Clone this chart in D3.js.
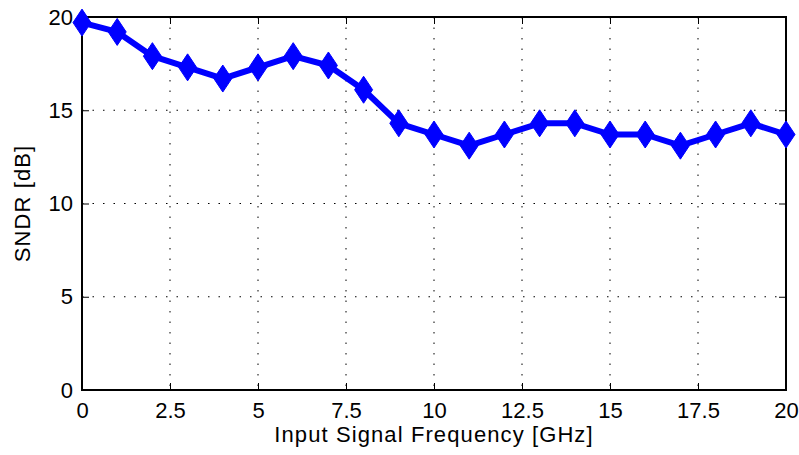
<!DOCTYPE html>
<html>
<head>
<meta charset="utf-8">
<title>SNDR vs frequency</title>
<style>
  body { margin: 0; background: #fff; }
  text { font-family: "Liberation Sans", Arial, sans-serif; fill: #000; }
</style>
</head>
<body>
<main></main>
<script src="https://cdn.jsdelivr.net/npm/d3@7/dist/d3.min.js"></script>
<script>
    // data
    var freqs = [0, 1, 2, 3, 4, 5, 6, 7, 8, 9, 10, 11, 12, 13, 14, 15, 16, 17, 18, 19, 20];
    var sndr = [19.7, 19.2, 17.9, 17.3, 16.7, 17.3, 17.9, 17.4, 16.1, 14.3, 13.7, 13.1, 13.7, 14.3, 14.3, 13.7, 13.7, 13.1, 13.7, 14.3, 13.7];
    var xTicks = [0, 2.5, 5, 7.5, 10, 12.5, 15, 17.5, 20];
    var yTicks = [0, 5, 10, 15, 20];

    var width = 799, height = 455;
    var mLeft = 82, mRight = 786, mTop = 17, mBottom = 390;

    var svg = d3.select("main").append("svg")
        .attr("width", width)
        .attr("height", height);

    var x = d3.scaleLinear().domain([0, 20]).range([mLeft, mRight]);
    var y = d3.scaleLinear().domain([0, 20]).range([mBottom, mTop]);
    var fmt = function (d) { return String(d); };

    // grid
    var grid = svg.append("g")
        .attr("stroke", "#000")
        .attr("stroke-width", 1)
        .attr("stroke-dasharray", "1.5,9");
    grid.selectAll(".gx").data(xTicks.slice(1, -1)).enter().append("line")
        .attr("x1", function (d) { return x(d); })
        .attr("x2", function (d) { return x(d); })
        .attr("y1", mTop).attr("y2", mBottom);
    grid.selectAll(".gy").data(yTicks.slice(1, -1)).enter().append("line")
        .attr("y1", function (d) { return y(d); })
        .attr("y2", function (d) { return y(d); })
        .attr("x1", mLeft).attr("x2", mRight);

    // axes, ticks inward, box all round
    var tickLen = 7;
    svg.append("g").attr("transform", "translate(0," + mBottom + ")")
        .call(d3.axisBottom(x).tickValues(xTicks).tickFormat(fmt).tickSizeInner(-tickLen).tickSizeOuter(0).tickPadding(12))
        .call(function (g) { g.select(".domain").remove(); })
        .selectAll("text").attr("font-size", 22);
    svg.append("g").attr("transform", "translate(0," + mTop + ")")
        .call(d3.axisTop(x).tickValues(xTicks).tickSizeInner(-tickLen).tickSizeOuter(0).tickFormat(""))
        .call(function (g) { g.select(".domain").remove(); });
    svg.append("g").attr("transform", "translate(" + mLeft + ",0)")
        .call(d3.axisLeft(y).tickValues(yTicks).tickFormat(fmt).tickSizeInner(-tickLen).tickSizeOuter(0).tickPadding(9))
        .call(function (g) { g.select(".domain").remove(); })
        .selectAll("text").attr("font-size", 22);
    svg.append("g").attr("transform", "translate(" + mRight + ",0)")
        .call(d3.axisRight(y).tickValues(yTicks).tickSizeInner(-tickLen).tickSizeOuter(0).tickFormat(""))
        .call(function (g) { g.select(".domain").remove(); });
    svg.selectAll(".tick line").attr("stroke", "#000").attr("stroke-width", 1);

    svg.append("rect")
        .attr("x", mLeft).attr("y", mTop)
        .attr("width", mRight - mLeft).attr("height", mBottom - mTop)
        .attr("fill", "none").attr("stroke", "#000").attr("stroke-width", 2);

    // labels
    svg.append("text")
        .attr("x", (mLeft + mRight) / 2).attr("y", 442)
        .attr("text-anchor", "middle").attr("font-size", 22)
        .attr("letter-spacing", 1.1)
        .text("Input Signal Frequency [GHz]");
    svg.append("text")
        .attr("transform", "translate(30," + (mTop + mBottom) / 2 + ") rotate(-90)")
        .attr("text-anchor", "middle").attr("font-size", 22)
        .attr("letter-spacing", 1.1)
        .text("SNDR [dB]");

    // series
    var pts = freqs.map(function (f, i) { return [f, sndr[i]]; });
    var line = d3.line()
        .x(function (d) { return x(d[0]); })
        .y(function (d) { return y(d[1]); });
    svg.append("path")
        .datum(pts)
        .attr("d", line)
        .attr("fill", "none")
        .attr("stroke", "#0000ff")
        .attr("stroke-width", 6)
        .attr("stroke-linejoin", "round");

    var dw = 9, dh = 13.5;
    svg.selectAll(".mk").data(pts).enter().append("path")
        .attr("d", "M0," + (-dh) + "L" + dw + ",0L0," + dh + "L" + (-dw) + ",0Z")
        .attr("transform", function (d) { return "translate(" + x(d[0]) + "," + y(d[1]) + ")"; })
        .attr("fill", "#0000ff")
        .attr("stroke", "#0000ff")
        .attr("stroke-width", 1);
</script>
</body>
</html>
